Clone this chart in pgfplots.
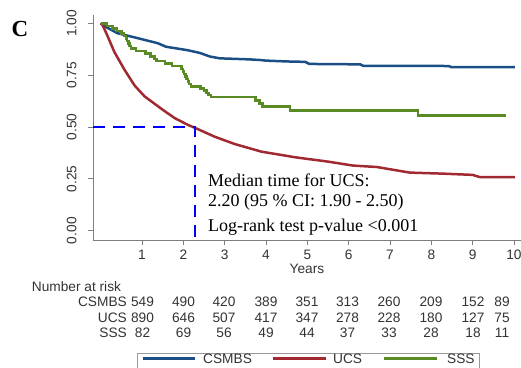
\documentclass[border=0pt]{standalone}
\usepackage{pgfplots}
\pgfplotsset{compat=1.18}
\usepackage{fontspec}
\setmainfont{Liberation Serif}
\setsansfont{Liberation Sans}
\definecolor{cblue}{HTML}{1B4E85}
\definecolor{cred}{HTML}{A12A32}
\definecolor{cgreen}{HTML}{5A8A23}
\definecolor{axgray}{HTML}{7F7F7F}
\definecolor{txt}{HTML}{333333}
\newcommand{\tl}{\sffamily\fontsize{13.7}{15}\selectfont}
\newcommand{\an}{\rmfamily\fontsize{18}{20}\selectfont}
\begin{document}
\begin{tikzpicture}
\useasboundingbox (0,0) rectangle (521pt,367pt);
\begin{axis}[
  at={(93pt,127pt)}, anchor=south west,
  scale only axis, width=428pt, height=225pt,
  xmin=-0.186, xmax=10.17, ymin=-0.045, ymax=1.040,
  axis lines=left, axis line style={-, draw=axgray, line width=0.9pt},
  tick align=outside, major tick length=5pt,
  tick style={axgray, line width=0.9pt},
  xtick={1,2,3,4,5,6,7,8,9,10}, xticklabels={1,2,3,4,5,6,7,8,9,10},
  ytick={0,0.25,0.5,0.75,1}, yticklabels={0.00,0.25,0.50,0.75,1.00},
  ticklabel style={font=\tl, text=txt},
  yticklabel style={xshift=-11.3pt, rotate=90, anchor=south, inner sep=0pt},
  xticklabel style={anchor=north, inner sep=0pt, yshift=-5pt},
  clip=false,
]
% CSMBS
\addplot[cblue, line width=2.5pt, line join=round] coordinates {
(0,1.0) (0.1,0.985) (0.41,0.952) (0.9,0.928) (1.38,0.904) (1.58,0.887)
(2.11,0.870) (2.4,0.857) (2.64,0.840) (2.88,0.831) (3.6,0.826) (3.85,0.823)
(4.0,0.820) (4.5,0.816) (4.95,0.814) (5.05,0.804) (6.28,0.802) (6.35,0.795)
(8.42,0.794) (8.48,0.789) (10.02,0.789)};
% UCS
\addplot[cred, line width=2.5pt, line join=round] coordinates {
(0,1.0) (0.05,0.99) (0.17,0.937) (0.33,0.862) (0.57,0.778) (0.82,0.700)
(1.06,0.648) (1.33,0.608) (1.55,0.576) (1.79,0.543) (2.11,0.510) (2.28,0.496)
(2.76,0.453) (3.24,0.418) (3.89,0.381) (4.7,0.354) (5.5,0.333) (6.1,0.314)
(6.68,0.307) (7.48,0.280) (8.28,0.275) (9.0,0.269) (9.18,0.258) (10.02,0.258)};
% SSS
\addplot[cgreen, line width=2.5pt, const plot] coordinates {
(0,1.000) (0.15,0.988) (0.28,0.976) (0.40,0.963) (0.50,0.951) (0.57,0.939)
(0.61,0.927) (0.64,0.915) (0.67,0.902) (0.70,0.890) (0.73,0.878) (0.85,0.866)
(1.08,0.854) (1.20,0.841) (1.30,0.829) (1.35,0.817) (1.56,0.805) (1.72,0.793)
(1.96,0.780) (1.99,0.768) (2.02,0.756) (2.05,0.744) (2.08,0.732) (2.11,0.720)
(2.14,0.707) (2.18,0.695) (2.42,0.686) (2.50,0.676) (2.56,0.665) (2.61,0.654)
(2.67,0.644) (3.74,0.628) (3.84,0.613) (3.92,0.598) (4.58,0.579) (7.68,0.556)
(9.80,0.556)};
% median lines
\addplot[blue, line width=2.6pt, dash pattern=on 11.5pt off 8.5pt] coordinates {
(-0.186,0.5) (2.28,0.5) (2.28,-0.045)};
\end{axis}
% annotation
\node[anchor=base west, inner sep=0pt, text=black] at (208pt,180.3pt) {\an Median time for UCS:};
\node[anchor=base west, inner sep=0pt, text=black] at (208pt,160.3pt) {\an 2.20 (95 \% CI: 1.90 - 2.50)};
\node[anchor=base west, inner sep=0pt, text=black] at (208pt,136pt) {\an Log-rank test p-value <0.001};
% panel letter
\node[anchor=base, inner sep=0pt] at (20pt,330.3pt) {\fontsize{23}{25}\selectfont\bfseries C};
% x label
\node[anchor=base, inner sep=0pt, text=txt] at (307pt,93.8pt) {\tl Years};
% number at risk
\node[anchor=base west, inner sep=0pt, text=txt] at (31.7pt,75.4pt) {\tl Number at risk};
\node[anchor=base east, inner sep=0pt, text=txt] at (127pt,60.4pt) {\tl CSMBS};
\node[anchor=base east, inner sep=0pt, text=txt] at (127pt,44.4pt) {\tl UCS};
\node[anchor=base east, inner sep=0pt, text=txt] at (127pt,29.1pt) {\tl SSS};
\foreach \x/\a/\b/\c in {142.5/549/890/82, 183.5/490/646/69, 224/420/507/56, 266/389/417/49,
  307/351/347/44, 347.5/313/278/37, 389/260/228/33, 431/209/180/28, 473/152/127/18, 502/89/75/11} {
  \node[anchor=base, inner sep=0pt, text=txt] at (\x pt,60.4pt) {\tl \a};
  \node[anchor=base, inner sep=0pt, text=txt] at (\x pt,44.4pt) {\tl \b};
  \node[anchor=base, inner sep=0pt, text=txt] at (\x pt,29.1pt) {\tl \c};
}
% legend
\draw[draw=axgray!80, line width=0.8pt] (137pt,-10pt) rectangle (479pt,13.5pt);
\draw[cblue, line width=2.5pt] (143pt,8.7pt) -- (195pt,8.7pt);
\draw[cred, line width=2.5pt] (273pt,8.7pt) -- (326pt,8.7pt);
\draw[cgreen, line width=2.5pt] (384pt,8.7pt) -- (437pt,8.7pt);
\node[anchor=base west, inner sep=0pt, text=txt] at (203pt,3.6pt) {\tl CSMBS};
\node[anchor=base west, inner sep=0pt, text=txt] at (333pt,3.6pt) {\tl UCS};
\node[anchor=base west, inner sep=0pt, text=txt] at (447pt,3.6pt) {\tl SSS};
\end{tikzpicture}
\end{document}
